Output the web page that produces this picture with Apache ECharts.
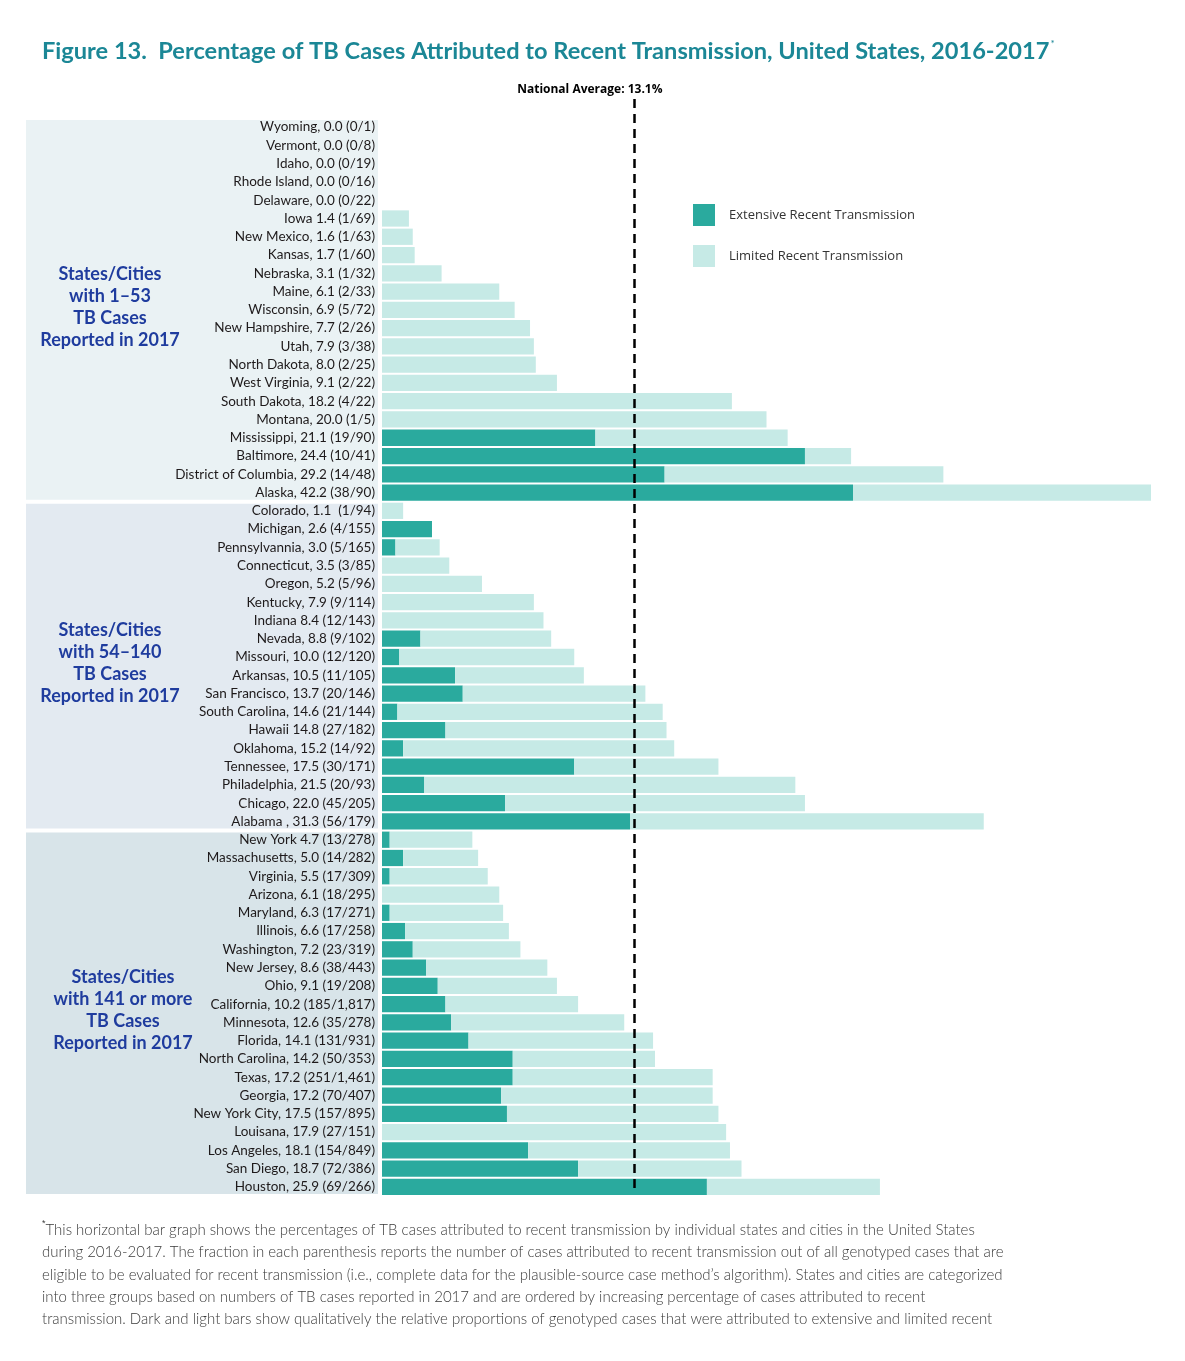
<!DOCTYPE html>
<html>
<head>
<meta charset="utf-8">
<title>Figure 13</title>
<script src="https://cdn.jsdelivr.net/npm/echarts@6/dist/echarts.min.js"></script>
<style>
  html, body { margin: 0; padding: 0; background: #fff; }
  #chart { width: 1185px; height: 1361px; }
</style>
</head>
<body>
<div id="chart"></div>
<script>
// row labels, top to bottom (as printed)
var labels = [
    'Wyoming, 0.0 (0/1)', 'Vermont, 0.0 (0/8)', 'Idaho, 0.0 (0/19)', 'Rhode Island, 0.0 (0/16)',
    'Delaware, 0.0 (0/22)', 'Iowa 1.4 (1/69)', 'New Mexico, 1.6 (1/63)', 'Kansas, 1.7 (1/60)',
    'Nebraska, 3.1 (1/32)', 'Maine, 6.1 (2/33)', 'Wisconsin, 6.9 (5/72)', 'New Hampshire, 7.7 (2/26)',
    'Utah, 7.9 (3/38)', 'North Dakota, 8.0 (2/25)', 'West Virginia, 9.1 (2/22)', 'South Dakota, 18.2 (4/22)',
    'Montana, 20.0 (1/5)', 'Mississippi, 21.1 (19/90)', 'Baltimore, 24.4 (10/41)',
    'District of Columbia, 29.2 (14/48)', 'Alaska, 42.2 (38/90)',

    'Colorado, 1.1  (1/94)', 'Michigan, 2.6 (4/155)', 'Pennsylvannia, 3.0 (5/165)', 'Connecticut, 3.5 (3/85)',
    'Oregon, 5.2 (5/96)', 'Kentucky, 7.9 (9/114)', 'Indiana 8.4 (12/143)', 'Nevada, 8.8 (9/102)',
    'Missouri, 10.0 (12/120)', 'Arkansas, 10.5 (11/105)', 'San Francisco, 13.7 (20/146)',
    'South Carolina, 14.6 (21/144)', 'Hawaii 14.8 (27/182)', 'Oklahoma, 15.2 (14/92)',
    'Tennessee, 17.5 (30/171)', 'Philadelphia, 21.5 (20/93)', 'Chicago, 22.0 (45/205)', 'Alabama , 31.3 (56/179)',

    'New York 4.7 (13/278)', 'Massachusetts, 5.0 (14/282)', 'Virginia, 5.5 (17/309)', 'Arizona, 6.1 (18/295)',
    'Maryland, 6.3 (17/271)', 'Illinois, 6.6 (17/258)', 'Washington, 7.2 (23/319)', 'New Jersey, 8.6 (38/443)',
    'Ohio, 9.1 (19/208)', 'California, 10.2 (185/1,817)', 'Minnesota, 12.6 (35/278)', 'Florida, 14.1 (131/931)',
    'North Carolina, 14.2 (50/353)', 'Texas, 17.2 (251/1,461)', 'Georgia, 17.2 (70/407)',
    'New York City, 17.5 (157/895)', 'Louisana, 17.9 (27/151)', 'Los Angeles, 18.1 (154/849)',
    'San Diego, 18.7 (72/386)', 'Houston, 25.9 (69/266)'
];

// percentage attributed to recent transmission (full bar length)
var totalPct = [
    0.0, 0.0, 0.0, 0.0, 0.0, 1.4, 1.6, 1.7, 3.1, 6.1, 6.9, 7.7, 7.9, 8.0, 9.1, 18.2, 20.0, 21.1, 24.4, 29.2, 42.2,
    1.1, 2.6, 3.0, 3.5, 5.2, 7.9, 8.4, 8.8, 10.0, 10.5, 13.7, 14.6, 14.8, 15.2, 17.5, 21.5, 22.0, 31.3,
    4.7, 5.0, 5.5, 6.1, 6.3, 6.6, 7.2, 8.6, 9.1, 10.2, 12.6, 14.1, 14.2, 17.2, 17.2, 17.5, 17.9, 18.1, 18.7, 25.9
];

// dark part of each bar (extensive recent transmission)
var extensivePct = [
    0, 0, 0, 0, 0, 0, 0, 0, 0, 0, 0, 0, 0, 0, 0, 0, 0, 11.1, 22.0, 14.7, 24.5,
    0, 2.6, 0.7, 0, 0, 0, 0, 2.0, 0.9, 3.8, 4.2, 0.8, 3.3, 1.1, 10.0, 2.2, 6.4, 12.9,
    0.4, 1.1, 0.4, 0, 0.4, 1.2, 1.6, 2.3, 2.9, 3.3, 3.6, 4.5, 6.8, 6.8, 6.2, 6.5, 0, 7.6, 10.2, 16.9
];

var groupTitles = [
    'States/Cities\nwith 1\u201353\nTB Cases\nReported in 2017',
    'States/Cities\nwith 54\u2013140\nTB Cases\nReported in 2017',
    'States/Cities\nwith 141 or more\nTB Cases\nReported in 2017'
];
var groupFirstRow = [0, 21, 39];
var groupLastRow = [20, 38, 58];

var nationalAverage = 13.1;

var footnoteLines = [
    'This horizontal bar graph shows the percentages of TB cases attributed to recent transmission by individual states and cities in the United States',
    'during 2016-2017. The fraction in each parenthesis reports the number of cases attributed to recent transmission out of all genotyped cases that are',
    'eligible to be evaluated for recent transmission (i.e., complete data for the plausible-source case method\u2019s algorithm). States and cities are categorized',
    'into three groups based on numbers of TB cases reported in 2017 and are ordered by increasing percentage of cases attributed to recent',
    'transmission. Dark and light bars show qualitatively the relative proportions of genotyped cases that were attributed to extensive and limited recent'
];

// light part = whatever of the bar is not dark
var limitedPct = totalPct.map(function (t, i) {
    return Math.round((t - extensivePct[i]) * 10) / 10;
});

var DARK = '#2aaa9e';
var LIGHT = '#c6eae6';
var panelColors = ['#eaf2f4', '#e3eaf1', '#d8e4e9'];

var myChart = echarts.init(document.getElementById('chart'));

var option = {
    backgroundColor: '#ffffff',
    animation: false,
    legend: {
        orient: 'vertical',
        left: 693,
        top: 204,
        padding: 0,
        itemWidth: 22,
        itemHeight: 22,
        itemGap: 19,
        icon: 'rect',
        textStyle: { fontFamily: 'Open Sans', fontSize: 13, color: '#333', padding: [0, 0, 0, 9] },
        data: ['Extensive Recent Transmission', 'Limited Recent Transmission']
    },
    grid: { left: 382, top: 118, width: 769, height: 1078, containLabel: false },
    xAxis: { type: 'value', min: 0, max: 40, show: false },
    yAxis: {
        type: 'category',
        inverse: true,
        data: labels,
        axisLine: { show: false },
        axisTick: { show: false },
        splitLine: { show: false },
        axisLabel: { fontFamily: 'Lato', fontSize: 13.5, color: '#1e1a1b', margin: 7 }
    },
    series: [
        {
            name: 'Extensive Recent Transmission',
            type: 'bar',
            stack: 'pct',
            clip: true,
            barCategoryGap: '11%',
            itemStyle: { color: DARK },
            data: extensivePct,
            markLine: {
                silent: true,
                symbol: 'none',
                lineStyle: { color: '#000', width: 2.5, type: [9, 6] },
                label: { show: false },
                data: [[
                    { coord: [nationalAverage, labels[0]], y: 99 },
                    { coord: [nationalAverage, labels[labels.length - 1]], y: 1192 }
                ]]
            }
        },
        {
            name: 'Limited Recent Transmission',
            type: 'bar',
            stack: 'pct',
            clip: true,
            barCategoryGap: '11%',
            itemStyle: { color: LIGHT },
            data: limitedPct
        }
    ]
};
myChart.setOption(option);

// side panels, group titles and text around the plot
var yOf = function (i) { return myChart.convertToPixel({ yAxisIndex: 0 }, labels[i]); };
var pitch = yOf(1) - yOf(0);
var graphics = [];
var groupTitleX = [110, 110, 123];
groupFirstRow.forEach(function (first, g) {
    var y0 = yOf(first) - pitch / 2 + 2;
    var y1 = yOf(groupLastRow[g]) + pitch / 2 - 2;
    graphics.push({
        type: 'rect', z: -10,
        shape: { x: 26, y: y0, width: 352, height: y1 - y0 },
        style: { fill: panelColors[g] }
    });
    graphics.push({
        type: 'text', z: 10,
        x: groupTitleX[g], y: (y0 + y1) / 2 - 3,
        style: {
            text: groupTitles[g], fill: '#1f3c9e',
            font: 'bold 18px Lato', lineHeight: 22,
            align: 'center', verticalAlign: 'middle'
        }
    });
});

graphics.push({
    type: 'text',
    x: 42, y: 51,
    style: {
        text: '{t|Figure 13.  Percentage of TB Cases Attributed to Recent Transmission, United States, 2016-2017}{s|*}',
        verticalAlign: 'middle',
        rich: {
            t: { fontFamily: 'Lato', fontWeight: 'bold', fontSize: 23.6, fill: '#1b8796' },
            s: { fontFamily: 'Lato', fontSize: 10, fill: '#1b8796', verticalAlign: 'top', padding: [0, 0, 12, 1] }
        }
    }
});

var avgX = myChart.convertToPixel({ xAxisIndex: 0 }, nationalAverage);
graphics.push({
    type: 'text',
    x: avgX - 44, y: 90,
    style: {
        text: 'National Average: ' + nationalAverage.toFixed(1) + '%',
        font: 'bold 12px "Open Sans"', fill: '#000',
        align: 'center', verticalAlign: 'middle'
    }
});

graphics.push({
    type: 'text',
    x: 42, y: 1219,
    style: {
        text: '{s|*}' + footnoteLines.join('\n'),
        fontFamily: 'Lato', fontWeight: 300, fontSize: 15, lineHeight: 22.3, fill: '#3a3a3a',
        rich: { s: { fontSize: 9, verticalAlign: 'top', fill: '#3a3a3a' } }
    }
});

myChart.setOption({ graphic: graphics });
</script>
</body>
</html>
